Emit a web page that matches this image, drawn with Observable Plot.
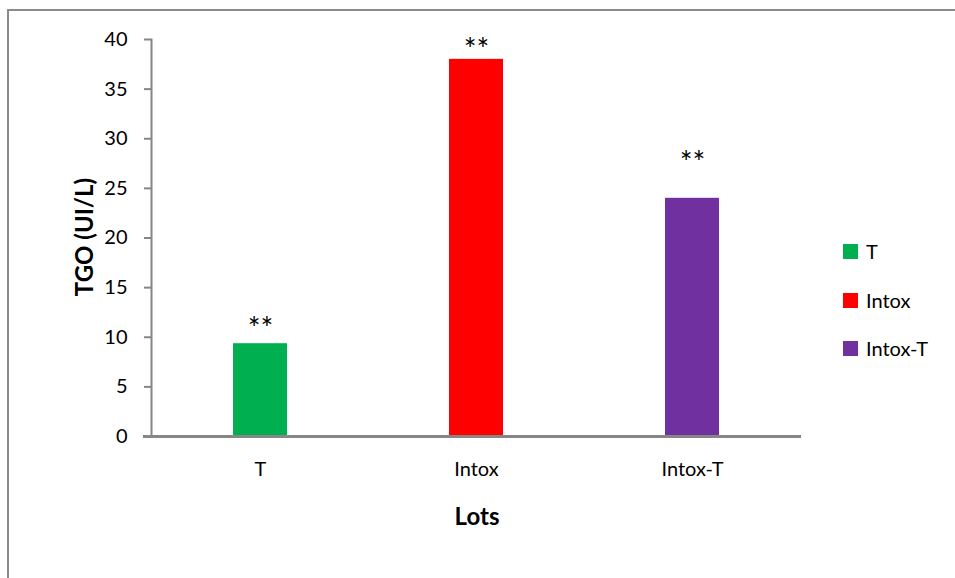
<!DOCTYPE html>
<html>
<head>
<meta charset="utf-8">
<script src="https://cdn.jsdelivr.net/npm/d3@7"></script>
<script src="https://cdn.jsdelivr.net/npm/@observablehq/plot@0.6"></script>
<style>
  html, body { margin: 0; padding: 0; background: #fff; }
  #wrap { position: relative; width: 955px; height: 578px; overflow: hidden; font-family: Lato, "Open Sans", sans-serif; }
  #frame { position: absolute; left: 7px; top: 9px; width: 1000px; height: 1000px; border: 2px solid #8a8a8a; box-sizing: border-box; }
  #chart { position: absolute; left: 0; top: 0; }
  .leg { position: absolute; left: 843px; display: flex; align-items: center; font-size: 20px; color: #000; }
  .leg span.sw { display: inline-block; width: 15px; height: 15px; margin-right: 8px; }
  .title { position: absolute; font-weight: bold; font-size: 24px; color: #000; white-space: nowrap; }
  #ytitle { left: 83px; top: 237px; transform: translate(-50%, -50%) rotate(-90deg); }
  #xtitle { left: 477px; top: 515px; transform: translate(-50%, -50%); }
</style>
</head>
<body>
<div id="wrap">
  <div id="frame"></div>
  <div id="chart"></div>
  <div id="legend"></div>
  <div class="title" id="ytitle">TGO (UI/L)</div>
  <div class="title" id="xtitle">Lots</div>
</div>
<script>
const categories = ["T", "Intox", "Intox-T"];
const values = [9.35, 38.0, 24.0];
const errors = [0.12, 0.12, 0.12];
const stars = ["**", "**", "**"];
const starsAt = [11.4, 39.5, 28.1];
const colors = ["#00b050", "#ff0000", "#7030a0"];
const yTicks = [0, 5, 10, 15, 20, 25, 30, 35, 40];

const data = categories.map((c, i) => ({ cat: c, v: values[i], e: errors[i], s: stars[i], sy: starsAt[i] }));

const chart = Plot.plot({
  width: 955,
  height: 578,
  marginLeft: 151,
  marginRight: 154,
  marginTop: 39,
  marginBottom: 142,
  style: { fontFamily: "Lato, 'Open Sans', sans-serif", fontSize: "20px", color: "#000", background: "transparent", overflow: "visible" },
  x: { domain: categories, paddingInner: 0.75, paddingOuter: 0.375, label: null },
  y: { domain: [0, 40], ticks: yTicks, label: null },
  color: { domain: categories, range: colors },
  marks: [
    Plot.barY(data, { x: "cat", y: "v", fill: "cat" }),
    Plot.barY(data, { x: "cat", y1: d => d.v - d.e, y2: d => d.v + d.e, fill: "#000", insetLeft: 103, insetRight: 103 }),
    Plot.text(data, { x: "cat", y: "sy", text: "s", fontSize: 30, fill: "#000", dy: 6, fontFamily: "Lato, sans-serif" }),
    Plot.axisY({ ticks: yTicks, tickSize: 7, tickPadding: 17, stroke: "#868686", strokeWidth: 2, fontSize: 20, fill: "#000", label: null }),
    Plot.axisX({ tickSize: 0, tickPadding: 25, fontSize: 20, fill: "#000", label: null }),
    Plot.frame({ anchor: "left", stroke: "#868686", strokeWidth: 2 }),
    Plot.ruleY([0], { stroke: "#868686", strokeWidth: 3, insetLeft: -8 })
  ]
});
document.getElementById("chart").appendChild(chart);

const legend = document.getElementById("legend");
const legTops = [239, 288, 336];
categories.forEach((c, i) => {
  const row = document.createElement("div");
  row.className = "leg";
  row.style.top = legTops[i] + "px";
  row.innerHTML = `<span class="sw" style="background:${colors[i]}"></span><span>${c}</span>`;
  legend.appendChild(row);
});
</script>
</body>
</html>
